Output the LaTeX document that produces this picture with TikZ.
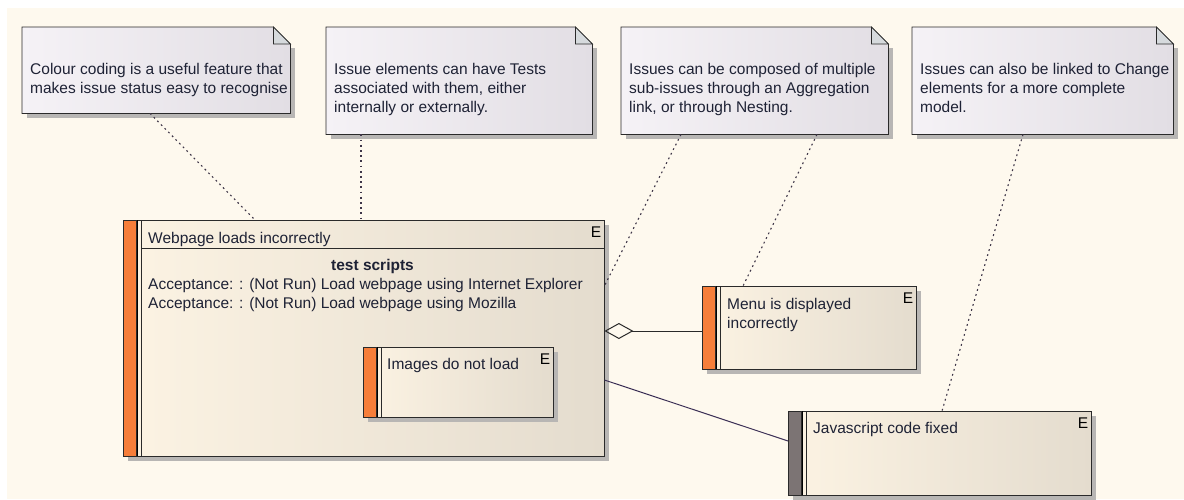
\documentclass[tikz,border=0pt]{standalone}
\usepackage{fontspec}
\setmainfont{Liberation Sans}
\usetikzlibrary{arrows.meta, positioning, calc}

\definecolor{bgcream}{HTML}{FEF9EE}
\definecolor{elemL}{HTML}{FCF3E3}
\definecolor{elemR}{HTML}{E4DCCE}
\definecolor{noteL}{HTML}{F5F2F6}
\definecolor{noteR}{HTML}{E2DEE4}
\definecolor{foldcol}{HTML}{D6DADD}
\definecolor{barorange}{HTML}{F67E3A}
\definecolor{bargrey}{HTML}{7C7474}
\definecolor{linecol}{HTML}{2A2A2A}
\definecolor{assoccol}{HTML}{3B2F55}
\definecolor{dotcol}{HTML}{3E3648}
\definecolor{txtcol}{HTML}{1E2235}
\definecolor{shadowcol}{HTML}{B8B6B4}

\begin{document}
\begin{tikzpicture}[x=1pt, y=-1pt,
    every node/.style={inner sep=0pt, text=txtcol, font=\fontsize{15.5}{19}\selectfont},
    box/.style={anchor=north west},
    notetext/.style={anchor=north west, align=left},
    boxline/.style={draw=linecol, line width=0.8pt},
    etag/.style={anchor=north east, text=black},
    lbl/.style={anchor=base west},
    note link/.style={dotcol, line width=1.1pt, dash pattern=on 1.8pt off 3.4pt},
    assoc/.style={assoccol, line width=1pt}
  ]
  \useasboundingbox (0,0) rectangle (1184,499);
  \fill[bgcream] (7,8) rectangle (1184,499);

  % Notes
  \node[box, minimum width=268pt, minimum height=86pt] (n1) at (22,27) {};
  \node[box, minimum width=266pt, minimum height=107pt] (n2) at (326,27) {};
  \node[box, minimum width=267pt, minimum height=107pt] (n3) at (621,27) {};
  \node[box, minimum width=261pt, minimum height=107pt] (n4) at (912,27) {};
  \foreach \n in {n1,n2,n3,n4} {
    \draw[boxline, left color=noteL, right color=noteR]
      (\n.north west) -- ([xshift=-17pt]\n.north east) -- ([yshift=-17pt]\n.north east)
      -- (\n.south east) -- (\n.south west) -- cycle;
    \draw[boxline, fill=foldcol]
      ([xshift=-17pt]\n.north east) -- ([xshift=-17pt,yshift=-17pt]\n.north east)
      -- ([yshift=-17pt]\n.north east) -- cycle;
    \fill[shadowcol] ($(\n.north east)+(0.5,21)$) rectangle ($(\n.south east)+(4.5,4.5)$);
    \fill[shadowcol] ($(\n.south west)+(4.5,0.5)$) rectangle ($(\n.south east)+(4.5,4.5)$);
  }
  \node[notetext] (t1) at ([shift={(8,36)}]n1.north west) {Colour coding is a useful feature that\\makes issue status easy to recognise};
  \node[notetext] (t2) at ([shift={(8,36)}]n2.north west) {Issue elements can have Tests\\associated with them, either\\internally or externally.};
  \node[notetext] (t3) at ([shift={(8,36)}]n3.north west) {Issues can be composed of multiple\\sub-issues through an Aggregation\\link, or through Nesting.};
  \node[notetext] (t4) at ([shift={(8,36)}]n4.north west) {Issues can also be linked to Change\\elements for a more complete\\model.};

  % Issue elements
  \node[box, minimum width=481pt, minimum height=236pt] (web) at (123,220) {};
  \node[box, minimum width=190pt, minimum height=70pt] (img) at (363,347) {};
  \node[box, minimum width=214pt, minimum height=83pt] (menu) at (702,286) {};
  \node[box, minimum width=303pt, minimum height=84pt] (js) at (788,411) {};
  \foreach \e/\c in {web/barorange, img/barorange, menu/barorange, js/bargrey} {
    \draw[boxline, left color=elemL, right color=elemR] (\e.north west) rectangle (\e.south east);
    \fill[shadowcol] ($(\e.north east)+(0.5,4.5)$) rectangle ($(\e.south east)+(4.5,4.5)$);
    \fill[shadowcol] ($(\e.south west)+(4.5,0.5)$) rectangle ($(\e.south east)+(4.5,4.5)$);
    \draw[boxline, fill=\c] (\e.north west) rectangle ([xshift=13.5pt]\e.south west);
    \draw[black, line width=1.6pt] ([xshift=14.5pt]\e.north west) -- ([xshift=14.5pt]\e.south west);
    \draw[linecol, line width=0.7pt] ([xshift=18pt]\e.north west) -- ([xshift=18pt]\e.south west);
    \node[etag] (\e tag) at ([shift={(-3,7)}]\e.north east) {E};
  }
  \draw[boxline] ([shift={(18,28)}]web.north west) -- ([yshift=-28pt]web.north east);

  % Element texts
  \node[lbl] (webname) at ([shift={(25,23)}]web.north west) {Webpage loads incorrectly};
  \node[anchor=base, font=\fontsize{15.5}{19}\selectfont\bfseries] (tests) at ([shift={(249.5,50)}]web.north west) {test scripts};
  \node[notetext] (testlist) at ([shift={(25,58)}]web.north west) {Acceptance: : (Not Run) Load webpage using Internet Explorer\\Acceptance: : (Not Run) Load webpage using Mozilla};
  \node[lbl] (imgname) at ([shift={(24,22)}]img.north west) {Images do not load};
  \node[notetext] (menuname) at ([shift={(25,12)}]menu.north west) {Menu is displayed\\incorrectly};
  \node[lbl] (jsname) at ([shift={(25,22)}]js.north west) {Javascript code fixed};

  % Note links
  \draw[note link] ([xshift=128pt]n1.south west) -- ([xshift=132pt]web.north west);
  \draw[note link] ([xshift=35pt]n2.south west) -- ([xshift=238pt]web.north west);
  \draw[note link] ([xshift=60pt]n3.south west) -- ([yshift=-66pt]web.north east);
  \draw[note link] ([xshift=196pt]n3.south west) -- ([xshift=41pt]menu.north west);
  \draw[note link] ([xshift=111pt]n4.south west) -- ([xshift=154pt]js.north west);

  % Aggregation and association
  \draw[linecol, line width=1pt, {Diamond[open, length=29pt, width=16pt]}-] ([yshift=-111pt]web.north east) -- ([yshift=-45pt]menu.north west);
  \draw[assoc] ([yshift=-160pt]web.north east) -- ([yshift=-30pt]js.north west);
\end{tikzpicture}
\end{document}
